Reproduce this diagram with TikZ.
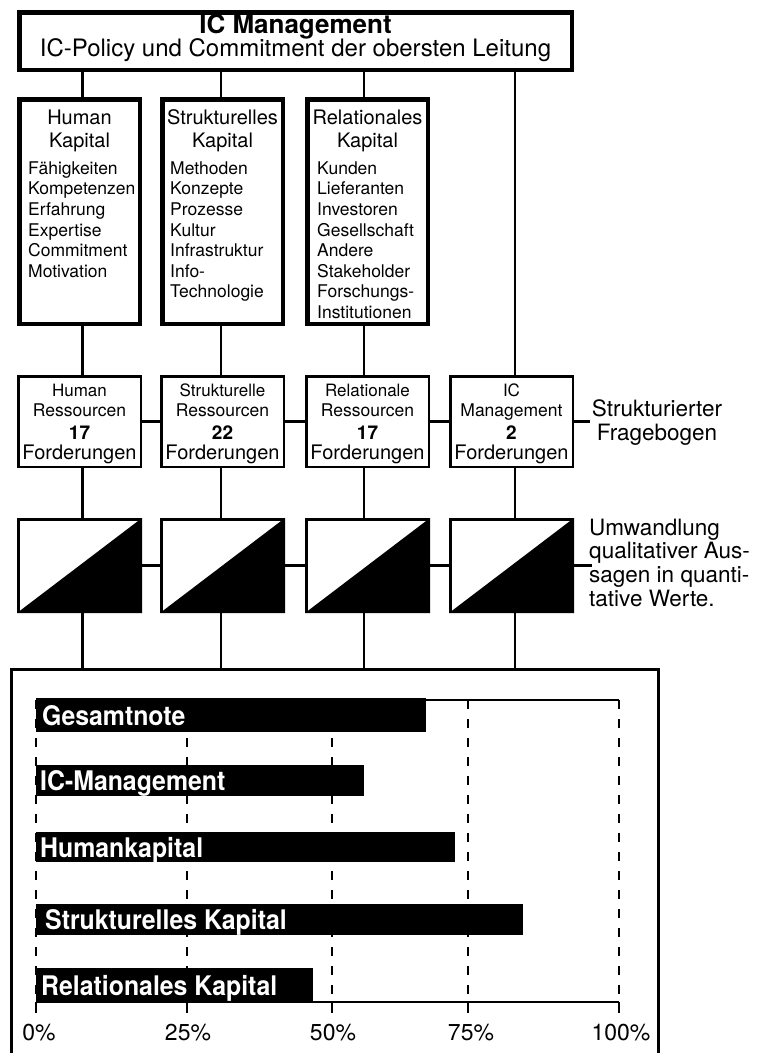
\documentclass[tikz,border=0pt]{standalone}
\usepackage{fontspec}
\setmainfont{TeX Gyre Heros}
\newfontfamily\condfont[FakeStretch=0.92]{TeX Gyre Heros}
\newcommand\myfs[1]{\fontsize{#1}{#1}\selectfont}
\begin{document}
\begin{tikzpicture}[x=1pt,y=-1pt,
  topbox/.style={draw, line width=4.5pt, inner sep=0pt, minimum width=552.5pt, minimum height=57.5pt},
  capbox/.style={draw, line width=4.5pt, inner sep=0pt, minimum width=120.5pt, minimum height=224.5pt},
  resbox/.style={draw, line width=2.5pt, inner sep=0pt, minimum width=122.5pt, minimum height=90.5pt},
  tribox/.style={draw, line width=2.5pt, inner sep=0pt, minimum width=122.5pt, minimum height=92.5pt},
  framebox/.style={draw, line width=3pt, inner sep=0pt, minimum width=647pt, minimum height=409pt},
  conn/.style={line width=2.5pt},
  txt/.style={inner sep=0pt, anchor=base},
  head/.style={txt, font=\myfs{20}},
  item/.style={inner sep=0pt, anchor=base west, font=\myfs{17.5}},
  side/.style={inner sep=0pt, font=\myfs{22.5}},
  barlbl/.style={inner sep=0pt, anchor=base west, text=white, font=\condfont\bfseries\myfs{27}},
  pct/.style={txt, font=\myfs{23}},
  dashline/.style={line width=2pt, dash pattern=on 9pt off 10pt},
]
\useasboundingbox (0,0) rectangle (760,1053);

% ---------- top box
\node[topbox] (top) at (295.5,41) {};
\node[txt, font=\bfseries\myfs{26}] (title) at (295.5,33) {IC Management};
\node[txt, font=\myfs{24}] (sub) at (295.5,56) {IC-Policy und Commitment der obersten Leitung};

% ---------- capital boxes
\node[capbox] (hum) at (79.5,211.5) {};
\node[capbox] (str) at (222.5,211.5) {};
\node[capbox] (rel) at (367.5,211.5) {};

\node[head] (humh1) at (79.5,124) {Human};
\node[head] (humh2) at (79.5,147) {Kapital};
\node[head] (strh1) at (222.5,124) {Strukturelles};
\node[head] (strh2) at (222.5,147) {Kapital};
\node[head] (relh1) at (367.5,124) {Relationales};
\node[head] (relh2) at (367.5,147) {Kapital};

\foreach \w [count=\i] in {Fähigkeiten,Kompetenzen,Erfahrung,Expertise,Commitment,Motivation}
  \node[item] (humi\i) at (28,{174.3+20.6*(\i-1)}) {\w};
\foreach \w [count=\i] in {Methoden,Konzepte,Prozesse,Kultur,Infrastruktur,Info-,Technologie}
  \node[item] (stri\i) at (170,{174.3+20.6*(\i-1)}) {\w};
\foreach \w [count=\i] in {Kunden,Lieferanten,Investoren,Gesellschaft,Andere,Stakeholder,Forschungs-,Institutionen}
  \node[item] (reli\i) at (317,{174.3+20.6*(\i-1)}) {\w};

% ---------- resource boxes
\node[resbox] (res1) at (79.5,421.5) {};
\node[resbox] (res2) at (222.5,421.5) {};
\node[resbox] (res3) at (367.5,421.5) {};
\node[resbox] (res4) at (511.5,421.5) {};

\foreach \c/\n/\a/\b/\k in {79.5/1/Human/Ressourcen/17, 222.5/2/Strukturelle/Ressourcen/22, 367.5/3/Relationale/Ressourcen/17, 511.5/4/IC/Management/2}{
  \node[txt, font=\myfs{17}] (ra\n) at (\c,396) {\a};
  \node[txt, font=\myfs{17.5}] (rb\n) at (\c,416) {\b};
  \node[txt, font=\bfseries\myfs{19}] (rc\n) at (\c,439) {\k};
  \node[txt, font=\myfs{20}] (rd\n) at (\c,459) {Forderungen};
}

\coordinate (stub1) at (590,421.5);
\node[side, anchor=base] (frag1) at (657,416) {Strukturierter};
\node[side, anchor=base] (frag2) at (657,440) {Fragebogen};

% ---------- conversion boxes
\node[tribox] (tri1) at (79.5,565.5) {};
\node[tribox] (tri2) at (222.5,565.5) {};
\node[tribox] (tri3) at (367.5,565.5) {};
\node[tribox] (tri4) at (511.5,565.5) {};
\foreach \t in {tri1,tri2,tri3,tri4}
  \fill (\t.south west) -- (\t.north east) -- (\t.south east) -- cycle;

\coordinate (stub2) at (592,565.5);
\node[side, anchor=base west] (umw1) at (589,535) {Umwandlung};
\node[side, anchor=base west] (umw2) at (589,558) {qualitativer Aus-};
\node[side, anchor=base west] (umw3) at (589,582) {sagen in quanti-};
\node[side, anchor=base west] (umw4) at (589,606) {tative Werte.};

% ---------- chart frame
\node[framebox] (frame) at (335,874) {};

% ---------- connectors
\draw[conn] ([xshift=3pt]hum.north) -- ([xshift=3pt]hum.north |- top.south);
\draw[conn] ([xshift=-1.5pt]str.north) -- ([xshift=-1.5pt]str.north |- top.south);
\draw[conn] ([xshift=-3.5pt]rel.north) -- ([xshift=-3.5pt]rel.north |- top.south);
\draw[conn] ([xshift=3.5pt]res4.north) -- ([xshift=3.5pt]res4.north |- top.south);
\draw[conn] ([xshift=3pt]hum.south) -- ([xshift=3pt]res1.north);
\draw[conn] ([xshift=-1.5pt]str.south) -- ([xshift=-1.5pt]res2.north);
\draw[conn] ([xshift=-3.5pt]rel.south) -- ([xshift=-3.5pt]res3.north);
\draw[conn] (res1.east) -- (res2.west);
\draw[conn] (res2.east) -- (res3.west);
\draw[conn] (res3.east) -- (res4.west);
\draw[conn] (res4.east) -- (stub1);
\foreach \i/\s in {1/3,2/-1.5,3/-3.5,4/3.5}{
  \draw[conn] ([xshift=\s pt]res\i.south) -- ([xshift=\s pt]tri\i.north);
  \draw[conn] ([xshift=\s pt]tri\i.south) -- ([xshift=\s pt]tri\i.south |- frame.north);
}
\draw[conn] (tri1.east) -- (tri2.west);
\draw[conn] (tri2.east) -- (tri3.west);
\draw[conn] (tri3.east) -- (tri4.west);
\draw[conn] (tri4.east) -- (stub2);

% ---------- chart
\foreach \x in {36,187,332,468,619}{
  \draw[dashline] (\x,700) -- (\x,1002);
  \draw[line width=2pt] (\x,1002) -- (\x,1013);
}
\draw[line width=2pt] (36,700) -- (619,700);
\draw[line width=2.5pt] (36,1002) -- (619,1002);

\fill (36,698) rectangle (426,732);
\fill (36,765) rectangle (364,796);
\fill (36,832) rectangle (455,862);
\fill (36,904) rectangle (523,935);
\fill (36,968) rectangle (313,1002);

\node[barlbl] (b1) at (42,725) {Gesamtnote};
\node[barlbl] (b2) at (40,790) {IC-Management};
\node[barlbl] (b3) at (40,857) {Humankapital};
\node[barlbl] (b4) at (45,929) {Strukturelles Kapital};
\node[barlbl] (b5) at (41,995) {Relationales Kapital};

\node[pct] (p0) at (39,1040) {0\%};
\node[pct] (p25) at (188,1040) {25\%};
\node[pct] (p50) at (333,1040) {50\%};
\node[pct] (p75) at (471,1040) {75\%};
\node[pct] (p100) at (621,1040) {100\%};
\end{tikzpicture}
\end{document}
